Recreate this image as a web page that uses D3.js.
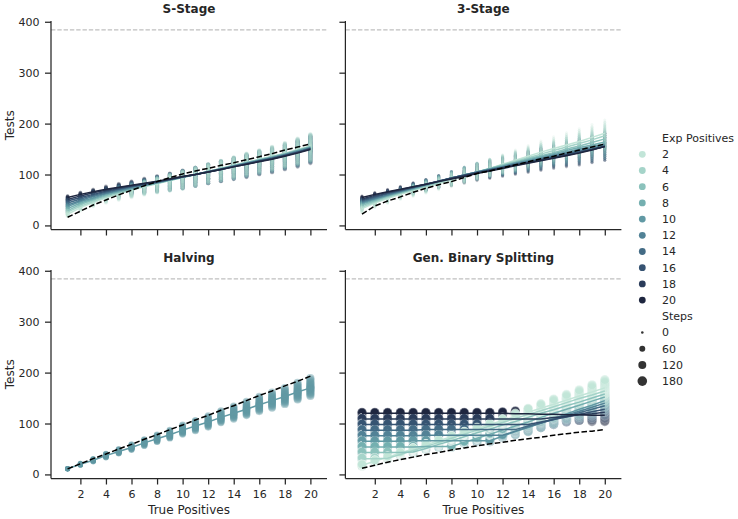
<!DOCTYPE html>
<html><head><meta charset="utf-8">
<script src="https://cdn.jsdelivr.net/npm/d3@7"></script>
<style>
body{margin:0;background:#fff}
svg{display:block}
text{font-family:"DejaVu Sans",sans-serif;fill:#262626}
</style>
</head><body>
<svg id="chart" width="738" height="519"></svg>
<script>
// ---------------- data ----------------
const truePositives = [1,2,3,4,5,6,7,8,9,10,11,12,13,14,15,16,17,18,19,20];
const expPositives = [2,4,6,8,10,12,14,16,18,20];
const panelTitles = ["S-Stage","3-Stage","Halving","Gen. Binary Splitting"];
const yTickValues = [0,100,200,300,400];
const xTickValues = [2,4,6,8,10,12,14,16,18,20];
const stepsLegendValues = [0,60,120,180];
const totalSamples = 384;

// mean tests per Exp Positives (rows: 2..20) over True Positives 1..20
const sStageTests = [
  [22,35,45,54,62,69,76,82,88,94,100,106,112,118,124,130,136,142,149,156],
  [26,38,47,56,63,70,77,83,88,94,100,106,112,118,124,129,135,141,148,155],
  [29,41,50,58,65,71,78,83,89,94,100,106,112,117,123,129,135,141,147,154],
  [33,44,52,60,66,72,78,84,89,95,100,106,111,117,123,128,134,140,147,154],
  [37,47,54,62,68,73,79,84,89,95,100,106,111,117,122,128,133,139,146,153],
  [40,49,57,63,69,75,80,85,90,95,100,105,111,116,122,127,133,139,145,152],
  [44,52,59,65,71,76,81,85,90,95,100,105,111,116,121,127,132,138,144,151],
  [48,55,61,67,72,77,81,86,90,95,100,105,110,116,121,126,131,137,144,151],
  [51,58,64,69,74,78,82,86,91,96,100,105,110,115,120,126,131,137,143,150],
  [55,61,66,71,75,79,83,87,91,96,100,105,110,115,120,125,130,136,142,149]
];
const sStageLo = [4,6,8,10,12,14,16,18,20,22,22,22,23,24,25,25,26,26,27,27];
const sStageHi = [3,4,5,6,7,8,9,10,11,12,13,14,15,16,17,18,19,20,22,24];
const sStageSteps = [14,15,16,17,18,18,19,19,20,20,21,21,22,22,22,23,23,23,24,24];
const sStageBound = [16,28,40,50,60,69,78,86,94,101,107,112,118,123,129,135,141,148,154,160];

const threeStageTests = [
  [33,44,53,61,68,75,82,89,96,104,112,120,128,136,144,151,158,165,173,181],
  [36,46,55,63,70,77,84,91,98,105,112,119,126,133,140,147,154,161,168,176],
  [39,48,57,64,71,78,85,92,99,105,112,118,124,131,137,143,150,156,163,170],
  [42,50,58,65,72,79,86,93,99,105,111,117,123,129,135,141,147,153,158,164],
  [44,52,59,66,73,80,86,93,99,105,111,116,122,127,133,139,144,150,155,160],
  [46,53,60,67,74,80,87,93,99,105,110,115,121,126,131,137,142,147,152,158],
  [48,55,62,68,74,81,87,93,99,104,109,114,119,124,129,135,140,145,150,156],
  [50,57,63,69,75,81,87,93,98,104,109,114,119,124,129,134,139,144,149,155],
  [52,59,65,70,76,81,87,92,98,103,108,113,118,123,128,133,138,143,149,155],
  [55,61,66,71,76,81,86,91,96,102,107,112,117,122,127,132,137,142,148,155]
];
const threeStageLo = [8,9,10,10,11,12,12,13,13,14,15,16,17,18,19,20,22,24,25,27];
const threeStageHi = [3,4,5,6,8,9,11,13,15,17,18,19,20,21,22,23,24,25,25,26];
const threeStageSteps = [5,5,5,5,5,5,5,5,5,5,5,5,5,5,5,5,5,5,5,5];
const threeStageBound = [22,38,48,56,65,73,80,86,94,102,107,113,119,125,131,136,142,148,154,160];

const halvingExpPositives = [10];
const halvingTests = [
  [11,20,28,37,45,53,62,70,78,87,95,103,112,120,128,137,145,153,162,170]
];
const halvingLo = [1,2,3,4,4,5,6,6,7,8,9,10,10,11,12,13,14,15,15,16];
const halvingHi = [1,2,3,4,5,6,7,8,9,10,11,12,13,14,15,16,16,17,18,19];
const halvingSteps = [36,42,48,54,60,65,70,75,80,85,90,94,98,102,106,110,114,118,122,126];
const halvingBound = [11,21,31,40,50,59,69,78,88,97,107,116,126,135,145,155,164,174,183,193];

const gbsTests = [
  [18,26,34,42,50,58,66,74,82,90,98,106,114,122,130,138,146,154,162,170],
  [31,31,32,39,47,55,63,71,79,87,95,102,110,118,125,133,141,149,156,164],
  [43,43,43,43,44,51,59,66,74,82,89,97,104,112,120,127,135,142,150,158],
  [54,54,54,54,54,55,55,55,63,71,79,87,95,103,112,120,128,136,144,152],
  [65,65,65,65,66,66,66,66,66,66,66,75,84,92,101,110,119,128,136,145],
  [76,76,76,76,76,77,77,77,77,77,77,77,85,93,101,109,117,124,132,140],
  [87,87,87,87,87,88,88,88,88,88,88,88,88,95,101,108,115,121,128,135],
  [98,98,98,98,98,98,98,98,98,98,98,98,98,98,103,108,113,118,123,128],
  [109,109,109,109,109,109,109,109,109,109,109,109,109,109,109,112,114,117,119,122],
  [120,120,120,120,120,120,120,120,120,120,120,120,119,119,118,118,117,117,116,116]
];
const gbsLo = [2,2,2,2,2,2,2,2,2,2,2,3,6,8,9,10,10,11,12,12];
const gbsHi = [2,2,2,2,2,2,2,2,2,2,2,3,6,8,9,10,11,12,14,16];
const gbsSteps = [158,158,159,159,160,160,161,161,162,162,163,163,164,165,166,167,168,169,170,172];
const gbsBound = [12,18,24,29,34,39,43,48,52,56,60,63,67,70,73,77,80,83,85,88];

// ---------------- styling / layout ----------------
const W = 276, H = 208.5;
const origins = [[51,21],[345.4,21],[51,270],[345.4,270]];
const ink = "#262626";
const spreadFractions = [-1,-0.85,-0.7,-0.56,-0.44,-0.33,-0.23,-0.14,-0.06,0,0.06,0.14,0.23,0.33,0.44,0.56,0.7,0.85,1];

// cubehelix (matplotlib/seaborn) colour map: start 0, rot -0.3, light .85, dark .15
function cubehelix(x){
  const start=0, rot=-0.3, hue=0.8;
  const a = hue*x*(1-x)/2, phi = 2*Math.PI*(start/3 + rot*x);
  const c=Math.cos(phi), s=Math.sin(phi);
  const r = x + a*(-0.14861*c + 1.78277*s);
  const g = x + a*(-0.29227*c - 0.90649*s);
  const b = x + a*(1.97294*c);
  const cl = v=>Math.round(Math.max(0,Math.min(1,v))*255);
  return d3.rgb(cl(r),cl(g),cl(b)).formatHex();
}
const hueNorm = d3.scaleLinear().domain([2,20]).range([0.85,0.15]);
const color = e => cubehelix(hueNorm(e));
const radius = s => Math.sqrt(Math.max(1, 6.76 + 0.474*s))/2;

const panels = [
  {title:panelTitles[0], hues:expPositives, tests:sStageTests, lo:sStageLo, hi:sStageHi, steps:sStageSteps, bound:sStageBound, alpha:0.2, edge:0},
  {title:panelTitles[1], hues:expPositives, tests:threeStageTests, lo:threeStageLo, hi:threeStageHi, steps:threeStageSteps, bound:threeStageBound, alpha:0.22, edge:0},
  {title:panelTitles[2], hues:halvingExpPositives, tests:halvingTests, lo:halvingLo, hi:halvingHi, steps:halvingSteps, bound:halvingBound, alpha:0.45, edge:0},
  {title:panelTitles[3], hues:expPositives, tests:gbsTests, lo:gbsLo, hi:gbsHi, steps:gbsSteps, bound:gbsBound, alpha:0.5, edge:0.5}
];

const svg = d3.select("#chart");
const x = d3.scaleLinear().domain([-0.3,21.3]).range([0,W]);
const y = d3.scaleLinear().domain([-8,401.5]).range([H,0]);

panels.forEach((p,pi)=>{
  const [ox,oy] = origins[pi];
  const col = pi%2, row = Math.floor(pi/2);
  const g = svg.append("g").attr("transform",`translate(${ox},${oy})`);

  // total samples reference line
  g.append("line").attr("x1",0).attr("x2",W)
    .attr("y1",y(totalSamples)).attr("y2",y(totalSamples))
    .attr("stroke","#c0c0c0").attr("stroke-width",1.2).attr("stroke-dasharray","4.4,1.9");

  // scatter points (dark first so light on top)
  const pts = g.append("g");
  for (let hi=p.hues.length-1; hi>=0; hi--){
    const e = p.hues[hi], c = color(e), series = p.tests[hi];
    truePositives.forEach((t,ti)=>{
      const r = radius(p.steps[ti]);
      spreadFractions.forEach(f=>{
        const v = series[ti] + f*(f<0 ? p.lo[ti] : p.hi[ti]);
        const circ = pts.append("circle").attr("cx",x(t)).attr("cy",y(v)).attr("r",r)
          .attr("fill",c).attr("fill-opacity",p.alpha);
        if (p.edge>0) circ.attr("stroke","#fff").attr("stroke-opacity",p.alpha).attr("stroke-width",p.edge);
      });
    });
  }

  // mean lines
  const line = d3.line().x((d,i)=>x(truePositives[i])).y(d=>y(d));
  p.hues.forEach((e,hi)=>{
    g.append("path").datum(p.tests[hi]).attr("d",line)
      .attr("fill","none").attr("stroke",color(e)).attr("stroke-width",1.5);
  });

  // bound line
  g.append("path").datum(p.bound).attr("d",line)
    .attr("fill","none").attr("stroke","#000").attr("stroke-width",1.5)
    .attr("stroke-dasharray","5.55,2.4");

  // axes
  const ya = d3.axisLeft(y).tickValues(yTickValues).tickSize(6).tickPadding(5.5).tickSizeOuter(0)
    .tickFormat(col===0 ? d3.format("d") : ()=>"");
  const yg = g.append("g").call(ya);
  const xa = d3.axisBottom(x).tickValues(xTickValues).tickSize(6).tickPadding(5.5).tickSizeOuter(0)
    .tickFormat(row===1 ? d3.format("d") : ()=>"");
  const xg = g.append("g").attr("transform",`translate(0,${H})`).call(xa);
  [yg,xg].forEach(a=>{
    a.select(".domain").attr("stroke",ink).attr("stroke-width",1.25);
    a.selectAll(".tick line").attr("stroke",ink).attr("stroke-width",1.25);
    a.selectAll(".tick text").attr("font-size",11).attr("fill",ink)
      .attr("font-family","'DejaVu Sans',sans-serif");
  });
  yg.select(".domain").attr("d",`M0,0V${H}`);
  xg.select(".domain").attr("d",`M0,0H${W}`);

  // title
  g.append("text").attr("x",W/2).attr("y",-8).attr("text-anchor","middle")
    .attr("font-size",12).attr("font-weight","bold").text(p.title);

  if (col===0){
    g.append("text").attr("transform",`translate(${13.5-ox},${H/2}) rotate(-90)`)
      .attr("text-anchor","middle").attr("font-size",12).text("Tests");
  }
  if (row===1){
    g.append("text").attr("x",W/2).attr("y",H+35.5).attr("text-anchor","middle")
      .attr("font-size",12).text("True Positives");
  }
});

// legend
const lg = svg.append("g");
const rowY = k => 138.1 + 16.2*k;
const legendMarkerX = 642.3, legendTextX = 662;
lg.append("text").attr("x",legendTextX).attr("y",rowY(0)).attr("dy","0.35em")
  .attr("font-size",11).text("Exp Positives");
expPositives.forEach((e,i)=>{
  lg.append("circle").attr("cx",legendMarkerX).attr("cy",rowY(i+1)).attr("r",3.4).attr("fill",color(e));
  lg.append("text").attr("x",legendTextX).attr("y",rowY(i+1)).attr("dy","0.35em")
    .attr("font-size",11).text(e);
});
lg.append("text").attr("x",legendTextX).attr("y",rowY(11)).attr("dy","0.35em")
  .attr("font-size",11).text("Steps");
stepsLegendValues.forEach((s,i)=>{
  lg.append("circle").attr("cx",legendMarkerX).attr("cy",rowY(12+i)).attr("r",radius(s)).attr("fill","#333333");
  lg.append("text").attr("x",legendTextX).attr("y",rowY(12+i)).attr("dy","0.35em")
    .attr("font-size",11).text(s);
});
</script>
</body></html>
